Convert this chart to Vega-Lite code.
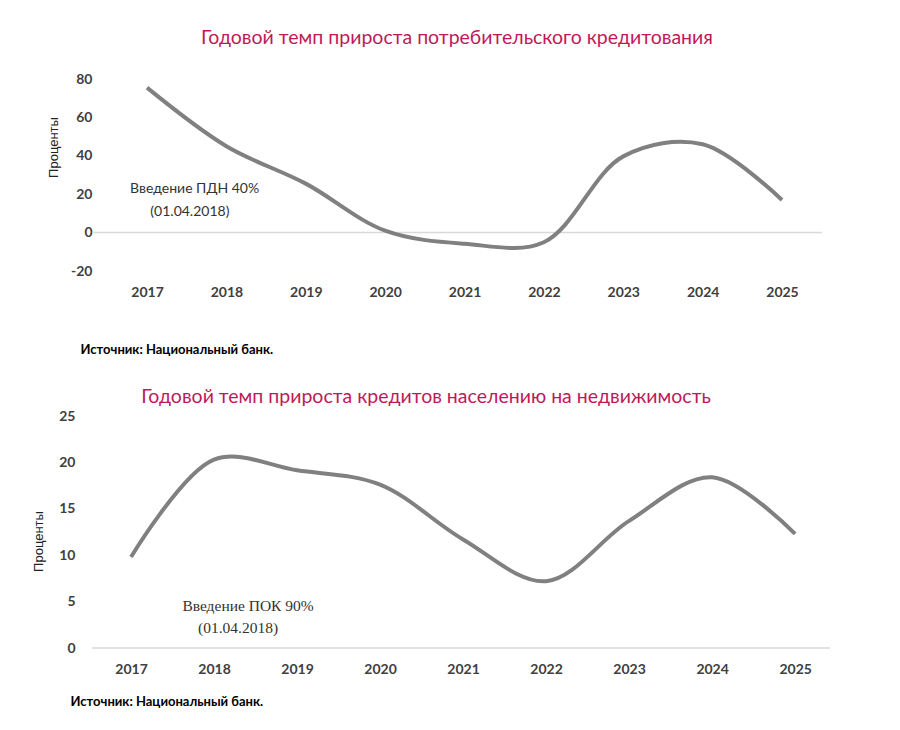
{
  "$schema": "https://vega.github.io/schema/vega-lite/v6.json",
  "background": "white",
  "padding": {"left": 32, "top": 27, "right": 10, "bottom": 5},
  "spacing": 30,
  "config": {"view": {"stroke": null}},
  "datasets": {
    "consumer": [
      {"year": 2017, "value": 75.5},
      {"year": 2018, "value": 45},
      {"year": 2019, "value": 25.5},
      {"year": 2020, "value": 1},
      {"year": 2021, "value": -5.8},
      {"year": 2022, "value": -5},
      {"year": 2023, "value": 39.7},
      {"year": 2024, "value": 46},
      {"year": 2025, "value": 17}
    ],
    "mortgage": [
      {"year": 2017, "value": 9.8},
      {"year": 2018, "value": 20.3},
      {"year": 2019, "value": 19.15},
      {"year": 2020, "value": 17.6},
      {"year": 2021, "value": 11.7},
      {"year": 2022, "value": 7.2},
      {"year": 2023, "value": 13.7},
      {"year": 2024, "value": 18.4},
      {"year": 2025, "value": 12.3}
    ],
    "zero": [{"value": 0}],
    "note1": [
      {"year": 2017.6, "value": 22.9, "text": "Введение ПДН 40%"},
      {"year": 2017.54, "value": 10.9, "text": "(01.04.2018)"}
    ],
    "note2": [
      {"year": 2018.41, "value": 4.5, "text": "Введение ПОК 90%"},
      {"year": 2018.29, "value": 2.15, "text": "(01.04.2018)"}
    ]
  },
  "vconcat": [
    {
      "width": 730,
      "height": 192,
      "title": {
        "text": "Годовой темп прироста потребительского кредитования",
        "fontSize": 19.5,
        "font": "Lato",
        "fontWeight": "normal",
        "color": "#C0185A",
        "offset": 24
      },
      "layer": [
        {
          "data": {"name": "zero"},
          "mark": {"type": "rule", "color": "#d9d9d9", "strokeWidth": 1.5},
          "encoding": {"y": {"field": "value", "type": "quantitative"}}
        },
        {
          "data": {"name": "consumer"},
          "mark": {"type": "line", "interpolate": "catmull-rom", "color": "#808080", "strokeWidth": 4},
          "encoding": {
            "x": {
              "field": "year",
              "type": "quantitative",
              "scale": {"domain": [2016.307, 2025.504], "nice": false, "zero": false},
              "axis": {
                "values": [2017, 2018, 2019, 2020, 2021, 2022, 2023, 2024, 2025],
                "tickCount": 9,
                "format": "d",
                "domain": false,
                "ticks": false,
                "grid": false,
                "labelPadding": 14,
                "labelFontSize": 14,
                "labelFont": "Lato",
                "labelFontWeight": "bold",
                "labelColor": "#404040",
                "title": "Источник: Национальный банк.",
                "titleFont": "Lato",
                "titleFontSize": 13,
                "titleFontWeight": "bold",
                "titleColor": "#000000",
                "titleAnchor": "start",
                "titleAlign": "left",
                "titleBaseline": "middle",
                "titleX": -12,
                "titleY": 78
              }
            },
            "y": {
              "field": "value",
              "type": "quantitative",
              "scale": {"domain": [-20, 80], "nice": false},
              "axis": {
                "values": [-20, 0, 20, 40, 60, 80],
                "tickCount": 6,
                "format": "d",
                "labelExpr": "replace(datum.label, '−', '-')",
                "labelOverlap": false,
                "domain": false,
                "ticks": false,
                "grid": false,
                "labelPadding": 0,
                "labelFontSize": 14,
                "labelFont": "Lato",
                "labelFontWeight": "bold",
                "labelColor": "#404040",
                "title": "Проценты",
                "titleFont": "Liberation Sans",
                "titleFontSize": 13,
                "titleFontWeight": "normal",
                "titleColor": "#222222",
                "titleX": -32,
                "titleY": 68
              }
            }
          }
        },
        {
          "data": {"name": "note1"},
          "mark": {"type": "text", "font": "Lato", "fontSize": 14, "color": "#333333"},
          "encoding": {
            "x": {"field": "year", "type": "quantitative"},
            "y": {"field": "value", "type": "quantitative"},
            "text": {"field": "text"}
          }
        }
      ]
    },
    {
      "width": 738,
      "height": 232,
      "title": {
        "text": "Годовой темп прироста кредитов населению на недвижимость",
        "fontSize": 19.5,
        "font": "Lato",
        "fontWeight": "normal",
        "color": "#C0185A",
        "offset": 2,
        "dx": -35
      },
      "layer": [
        {
          "data": {"name": "zero"},
          "mark": {"type": "rule", "color": "#d9d9d9", "strokeWidth": 1.5},
          "encoding": {"y": {"field": "value", "type": "quantitative"}}
        },
        {
          "data": {"name": "mortgage"},
          "mark": {"type": "line", "interpolate": "catmull-rom", "color": "#808080", "strokeWidth": 4},
          "encoding": {
            "x": {
              "field": "year",
              "type": "quantitative",
              "scale": {"domain": [2016.53, 2025.42], "nice": false, "zero": false},
              "axis": {
                "values": [2017, 2018, 2019, 2020, 2021, 2022, 2023, 2024, 2025],
                "tickCount": 9,
                "format": "d",
                "domain": false,
                "ticks": false,
                "grid": false,
                "labelPadding": 14,
                "labelFontSize": 14,
                "labelFont": "Lato",
                "labelFontWeight": "bold",
                "labelColor": "#404040",
                "title": "Источник: Национальный банк.",
                "titleFont": "Lato",
                "titleFontSize": 13,
                "titleFontWeight": "bold",
                "titleColor": "#000000",
                "titleAnchor": "start",
                "titleAlign": "left",
                "titleBaseline": "middle",
                "titleX": -22,
                "titleY": 53
              }
            },
            "y": {
              "field": "value",
              "type": "quantitative",
              "scale": {"domain": [0, 25], "nice": false},
              "axis": {
                "values": [0, 5, 10, 15, 20, 25],
                "tickCount": 6,
                "labelOverlap": false,
                "domain": false,
                "ticks": false,
                "grid": false,
                "labelPadding": 17,
                "labelFontSize": 14,
                "labelFont": "Lato",
                "labelFontWeight": "bold",
                "labelColor": "#404040",
                "title": "Проценты",
                "titleFont": "Liberation Sans",
                "titleFontSize": 13,
                "titleFontWeight": "normal",
                "titleColor": "#222222",
                "titleX": -47,
                "titleY": 125
              }
            }
          }
        },
        {
          "data": {"name": "note2"},
          "mark": {"type": "text", "font": "Liberation Serif", "fontSize": 15.5, "color": "#333333"},
          "encoding": {
            "x": {"field": "year", "type": "quantitative"},
            "y": {"field": "value", "type": "quantitative"},
            "text": {"field": "text"}
          }
        }
      ]
    }
  ]
}
